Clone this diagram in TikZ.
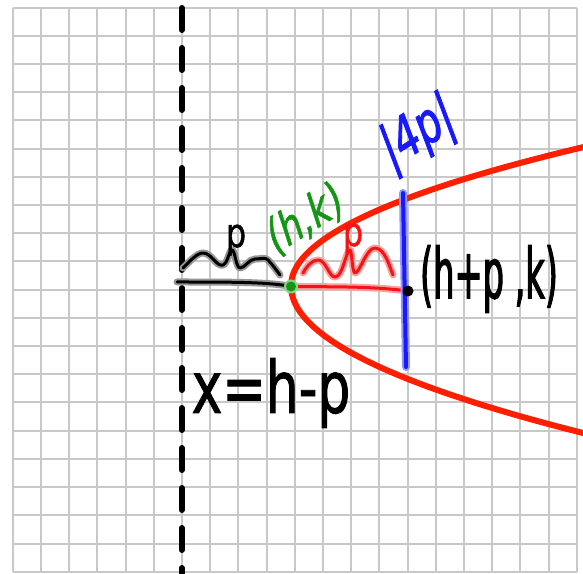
\documentclass[tikz,border=0pt]{standalone}
\usepackage{fontspec}
\newfontfamily\handA[FakeStretch=0.72,FakeBold=1.2]{DejaVu Sans}
\newfontfamily\handB[FakeStretch=0.48,FakeBold=1.5]{DejaVu Sans}
\newfontfamily\handC[FakeStretch=0.78,FakeSlant=0.25,FakeBold=1.2]{DejaVu Sans}
\newfontfamily\handD[FakeStretch=0.72,FakeSlant=0.2,FakeBold=1.5]{DejaVu Sans}
\newfontfamily\handP[FakeStretch=0.8,FakeBold=1.2]{DejaVu Sans}
\definecolor{gridc}{RGB}{200,200,200}
\definecolor{parc}{RGB}{255,30,0}
\definecolor{redink}{RGB}{245,20,20}
\definecolor{redhalo}{RGB}{255,160,160}
\definecolor{blueink}{RGB}{25,25,255}
\definecolor{bluehalo}{RGB}{150,150,255}
\definecolor{greenink}{RGB}{20,150,20}
\definecolor{greenhalo}{RGB}{140,210,140}
\definecolor{blackhalo}{RGB}{150,150,150}
\begin{document}
\begin{tikzpicture}[x=1pt,y=1pt,
  gridline/.style={draw=gridc, line width=2pt},
  blackink/.style={draw=black, line width=3pt, line cap=round, line join=round,
    preaction={draw=blackhalo, line width=7pt, line cap=round, line join=round}},
  redink/.style={draw=redink, line width=3pt, line cap=round, line join=round,
    preaction={draw=redhalo, line width=7pt, line cap=round, line join=round}},
  blueink/.style={draw=blueink, line width=4pt, line cap=round,
    preaction={draw=bluehalo, line width=8pt, line cap=round}},
  lbl/.style={inner sep=0pt, outer sep=0pt}]
\useasboundingbox (0,0) rectangle (583,573);
\fill[white] (0,0) rectangle (583,573);
% grid
\foreach \i in {0,...,20}{
  \draw[gridline] (12.7+28.2*\i,1.3) -- (12.7+28.2*\i,565.3);
  \draw[gridline] (12.7,1.3+28.2*\i) -- (576.7,1.3+28.2*\i);
}
% directrix
\coordinate (D1) at (181.8,565);
\coordinate (D2) at (181.8,-5);
\draw[line width=6pt, line cap=round, dash pattern=on 22pt off 18pt] (D1) -- (D2);
% parabola
\begin{scope}
\clip (0,0) rectangle (583,573);
\draw[parc, line width=6pt, line join=round]
  plot[domain=142:0, samples=60, smooth] ({291+\x/66*\x}, {287+\x})
  -- plot[domain=0:150, samples=60, smooth] ({291+\x/74*\x}, {287-\x});
\end{scope}
% key points
\coordinate (V) at (291,286.5);
\coordinate (F) at (408,282);
\coordinate (L) at (177,291);
\coordinate (B1) at (403,380);
\coordinate (B2) at (406,206);
% black segment directrix -> vertex
\draw[blackink] (L) .. controls (230,291) and (270,291) .. (V);
% red segment vertex -> focus
\draw[redink] (V) .. controls (330,286) and (370,287) .. (F);
% black brace
\draw[blackink] (183,305) .. controls (190,312) and (197,320) .. (203,320)
  .. controls (212,320) and (216,306) .. (223,308)
  .. controls (228,310) and (229,323) .. (232,323)
  .. controls (235,323) and (236,305) .. (240,305)
  .. controls (245,305) and (249,314) .. (255,314)
  .. controls (262,314) and (265,316) .. (268,313)
  .. controls (272,309) and (277,302) .. (280,298);
% red brace
\draw[redink] (303,300) .. controls (307,307) and (312,313) .. (318,313)
  .. controls (326,313) and (329,296) .. (335,296)
  .. controls (343,296) and (346,323) .. (350,323)
  .. controls (352,323) and (352,300) .. (355,300)
  .. controls (360,300) and (366,325) .. (375,325)
  .. controls (385,325) and (390,305) .. (393,298);
% blue latus rectum line
\draw[blueink] (B1) -- (B2);
% dots
\fill[greenhalo] (V) circle (7);
\fill[greenink] (V) circle (5);
\fill[black] (F) circle (5.5);
% labels
\node[lbl, text=black, font=\handP\fontsize{40}{40}\selectfont] (pblack) at (236,333) {p};
\node[lbl, text=redink, font=\handP\fontsize{40}{40}\selectfont] (pred) at (353,334) {p};
\node[lbl, text=greenink, rotate=32, font=\handC\fontsize{46}{46}\selectfont] (hk) at (302,352) {(h,k)};
\node[lbl, text=blueink, rotate=32, font=\handD\fontsize{56}{56}\selectfont] (lr) at (416,437) {|4p|};
\node[lbl, text=black, font=\handB\fontsize{70}{70}\selectfont] (hpk) at (489,294) {(h+p ,k)};
\node[lbl, text=black, font=\handA\fontsize{72}{72}\selectfont] (dir) at (271,180) {x=h-p};
\end{tikzpicture}
\end{document}
